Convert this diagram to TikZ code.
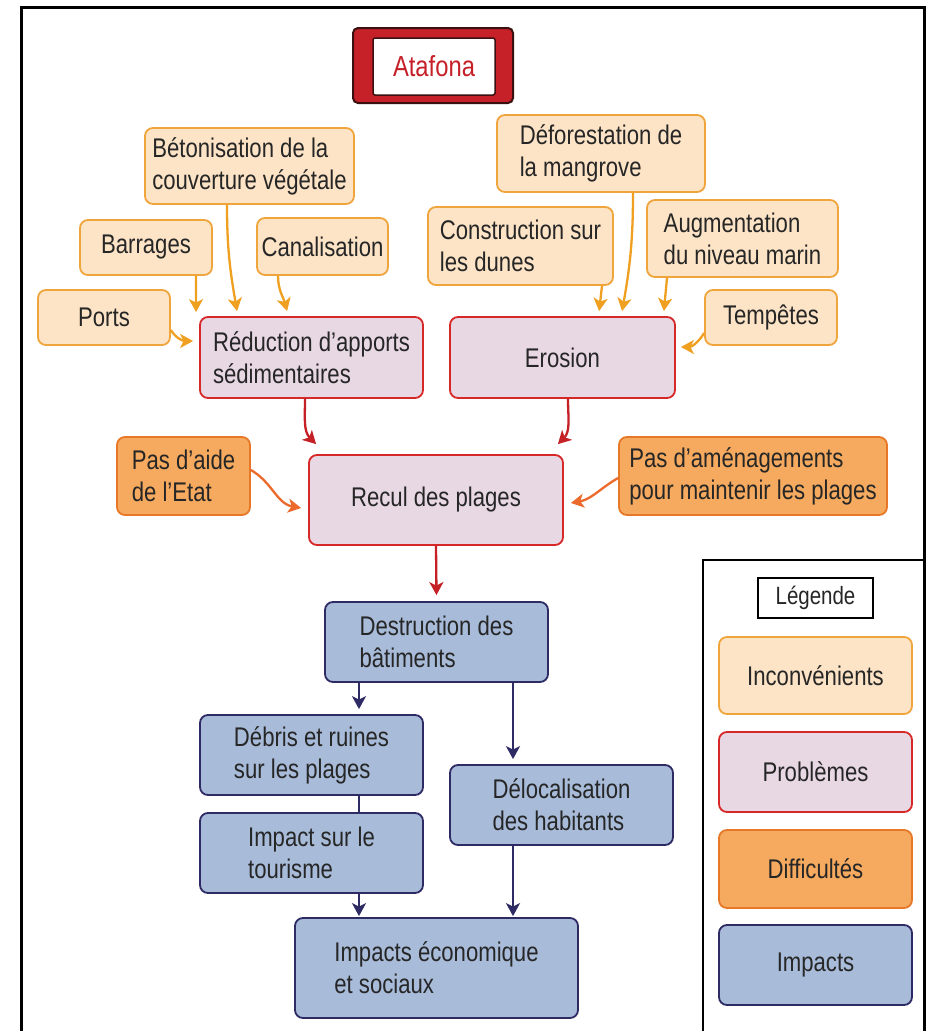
\documentclass[tikz,border=0pt]{standalone}
\usepackage{fontspec}
\setmainfont{Liberation Sans}[FakeStretch=0.82]
\usetikzlibrary{arrows.meta}
\definecolor{incfill}{HTML}{FDE4C6}
\definecolor{incdraw}{HTML}{F0A53C}
\definecolor{incarr}{HTML}{F0A020}
\definecolor{probfill}{HTML}{E8D8E4}
\definecolor{probdraw}{HTML}{D62828}
\definecolor{probarr}{HTML}{C42026}
\definecolor{difffill}{HTML}{F5AA5F}
\definecolor{diffdraw}{HTML}{E67828}
\definecolor{diffarr}{HTML}{EC6A2C}
\definecolor{impfill}{HTML}{A8BCDA}
\definecolor{impdraw}{HTML}{2E2A64}
\definecolor{atared}{HTML}{C62029}
\definecolor{ataborder}{HTML}{3A1010}
\definecolor{txt}{HTML}{262626}
\begin{document}
\begin{tikzpicture}[x=1pt,y=1pt,
  sz/.style 2 args={minimum width=#1pt, minimum height=#2pt},
  box/.style={rounded corners=8pt, line width=1.8pt, inner sep=2pt, align=left,
    font=\fontsize{27}{32}\selectfont, text=txt},
  inc/.style={box, fill=incfill, draw=incdraw},
  prob/.style={box, fill=probfill, draw=probdraw},
  diff/.style={box, fill=difffill, draw=diffdraw},
  imp/.style={box, fill=impfill, draw=impdraw},
  conn/.style={line width=2.3pt, -{Stealth[length=13pt,width=14pt,inset=3.5pt]}},
  incline/.style={conn, draw=incarr},
  probline/.style={conn, draw=probarr},
  diffline/.style={conn, draw=diffarr},
  impline/.style={conn, draw=impdraw},
]
\useasboundingbox (0,0) rectangle (928,-1031);
\fill[white] (0,0) rectangle (928,-1031);

% frames
\draw[line width=3pt] (21,-1031) -- (21,-7) -- (924,-7) -- (924,-1031);
\draw[line width=2.5pt] (703,-1031) -- (703,-560) -- (924,-560);

% title
\node[draw=ataborder, fill=atared, line width=2pt, rounded corners=5pt, sz={160}{75}] (ataouter) at (433,-65.5) {};
\node[draw=ataborder, fill=white, line width=1.5pt, rounded corners=2pt, sz={122}{57},
  font=\fontsize{29}{32}\selectfont, text=atared] (ata) at (434,-66.5) {Atafona};

% inconvenients
\node[inc, sz={209}{76}] (bet) at (249.5,-166) {Bétonisation de la\\couverture végétale};
\node[inc, sz={132}{55}] (barr) at (146,-247.5) {Barrages};
\node[inc, sz={131}{57}] (can) at (322.5,-246.5) {Canalisation};
\node[inc, sz={132}{55}] (ports) at (104,-317.5) {Ports};
\node[inc, sz={208}{77}] (def) at (601,-153.5) {Déforestation de\\la mangrove};
\node[inc, sz={185}{78}] (con) at (520.5,-246) {Construction sur\\les dunes};
\node[inc, sz={191}{77}] (aug) at (742.5,-238.5) {Augmentation\\du niveau marin};
\node[inc, sz={132}{55}] (tem) at (771,-317.5) {Tempêtes};

% problems
\node[prob, sz={223}{81}] (red) at (311.5,-357.5) {Réduction d’apports\\sédimentaires};
\node[prob, sz={225}{81}] (ero) at (562.5,-357.5) {Erosion};
\node[prob, sz={254}{90}] (rec) at (436,-500) {Recul des plages};

% difficulties
\node[diff, sz={133}{78}] (aide) at (183.5,-476) {Pas d’aide\\de l’Etat};
\node[diff, sz={268}{78}] (amen) at (753,-476) {Pas d’aménagements\\pour maintenir les plages};

% impacts
\node[imp, sz={223}{80}] (dest) at (436.5,-642) {Destruction des\\bâtiments};
\node[imp, sz={223}{80}] (deb) at (311.5,-755) {Débris et ruines\\sur les plages};
\node[imp, sz={223}{80}] (tour) at (311.5,-853) {Impact sur le\\tourisme};
\node[imp, sz={223}{80}] (del) at (561.5,-805) {Délocalisation\\des habitants};
\node[imp, sz={283}{100}] (eco) at (436.5,-968) {Impacts économique\\et sociaux};

% legend
\node[draw=black, line width=1.5pt, sz={115}{40}, inner sep=2pt,
  font=\fontsize{25}{30}\selectfont, text=txt] (leg) at (815.5,-598) {Légende};
\node[inc, sz={193}{77}, align=center] (linc) at (815.5,-675.5) {Inconvénients};
\node[prob, sz={193}{80}, align=center] (lprob) at (815.5,-772) {Problèmes};
\node[diff, sz={193}{78}, align=center] (ldiff) at (815.5,-869) {Difficultés};
\node[imp, sz={193}{80}, align=center] (limp) at (815.5,-965) {Impacts};

% arrows: inconvenients
\draw[incline] ([xshift=-17pt]barr.south east) -- ([xshift=-3pt,yshift=4pt]red.north west);
\draw[incline] ([xshift=-22.5pt]bet.south) to[out=-90,in=100] ([xshift=38pt,yshift=5pt]red.north west);
\draw[incline] ([xshift=-44.5pt]can.south) to[out=-90,in=105] ([xshift=88pt,yshift=5pt]red.north west);
\draw[incline] ([yshift=-12.5pt]ports.east) to[out=-60,in=180] ([xshift=-6pt,yshift=16.5pt]red.west);
\draw[incline] ([xshift=81.5pt]con.south) -- ([xshift=150pt,yshift=5pt]ero.north west);
\draw[incline] ([xshift=32pt]def.south) to[out=-90,in=80] ([xshift=173pt,yshift=5pt]ero.north west);
\draw[incline] ([xshift=-75.5pt]aug.south) -- ([xshift=-12pt,yshift=5pt]ero.north east);
\draw[incline] ([yshift=-15.5pt]tem.west) to[out=-120,in=0] ([xshift=5pt,yshift=10.5pt]ero.east);

% arrows: problems
\draw[probline] ([xshift=-6.5pt]red.south) to[out=-90,in=135] ([xshift=8pt,yshift=10pt]rec.north west);
\draw[probline] ([xshift=5.5pt]ero.south) to[out=-90,in=45] ([xshift=-6pt,yshift=10pt]rec.north east);
\draw[probline] (rec.south) -- ([yshift=6pt]dest.north);

% arrows: difficulties
\draw[diffline] ([yshift=6pt]aide.east) to[out=-30,in=170] ([xshift=-7pt,yshift=-8pt]rec.west);
\draw[diffline] ([yshift=-2pt]amen.west) to[out=210,in=10] ([xshift=7pt,yshift=-3pt]rec.east);

% arrows: impacts
\draw[impline] ([xshift=-77.5pt]dest.south) -- ([xshift=47.5pt,yshift=5pt]deb.north);
\draw[impline] ([xshift=76.5pt]dest.south) -- ([xshift=-48.5pt,yshift=5pt]del.north);
\draw[line width=2.3pt, draw=impdraw] ([xshift=47.5pt]deb.south) -- ([xshift=47.5pt]tour.north);
\draw[impline] ([xshift=47.5pt]tour.south) -- ([xshift=-77.5pt,yshift=1pt]eco.north);
\draw[impline] ([xshift=-48.5pt]del.south) -- ([xshift=76.5pt,yshift=1pt]eco.north);
\end{tikzpicture}
\end{document}
